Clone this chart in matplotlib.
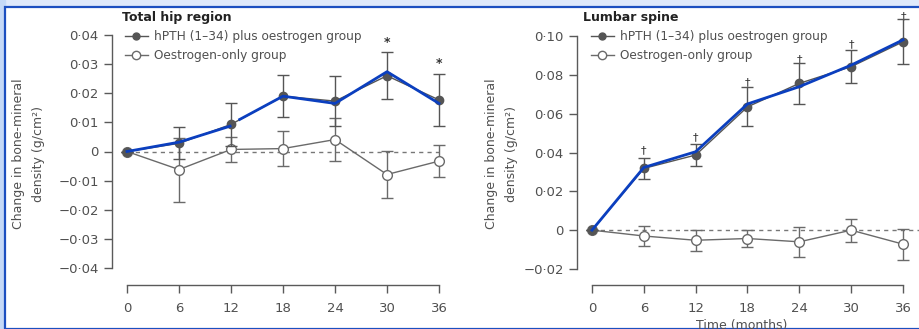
import numpy as np
import matplotlib
matplotlib.use("Agg")
import matplotlib.pyplot as plt
from matplotlib.patches import Rectangle
from matplotlib.lines import Line2D

# months on x axis
months = [0, 6, 12, 18, 24, 30, 36]

# total hip region (g/cm2)
hip_pth = [0, 0.0028, 0.0093, 0.0190, 0.0173, 0.0260, 0.0177]
hip_pth_err = [0, 0.0055, 0.0075, 0.0073, 0.0085, 0.0080, 0.0090]
hip_oes = [0, -0.0062, 0.0007, 0.0010, 0.0041, -0.0079, -0.0033]
hip_oes_err = [0, 0.0110, 0.0042, 0.0060, 0.0075, 0.0080, 0.0055]
hip_blue_x = [0, 6, 11.9, np.nan, 13.0, 18, 24, 30, 36]
hip_blue_y = [0, 0.0032, 0.0087, np.nan, 0.0110, 0.0190, 0.0165, 0.0274, 0.0165]
hip_star_x = [30, 36]
hip_star_y = [0.0375, 0.0302]

# lumbar spine (g/cm2)
sp_pth = [0, 0.0318, 0.0387, 0.0635, 0.0756, 0.0842, 0.0970]
sp_pth_err = [0, 0.0055, 0.0058, 0.0100, 0.0105, 0.0085, 0.0115]
sp_oes = [0, -0.0030, -0.0052, -0.0043, -0.0060, 0.0, -0.0072]
sp_oes_err = [0, 0.0050, 0.0055, 0.0043, 0.0077, 0.0060, 0.0080]
sp_blue_y = [0, 0.0323, 0.0404, 0.0650, 0.0739, 0.0850, 0.0980]
sp_dag_y = [None, 0.0410, 0.0480, 0.0760, 0.0880, 0.0960, 0.1100]

hip_yticks = [-0.04, -0.03, -0.02, -0.01, 0, 0.01, 0.02, 0.03, 0.04]
sp_yticks = [-0.02, 0, 0.02, 0.04, 0.06, 0.08, 0.10]

W, H = 920, 329
GREY = "#5a5a5a"
TXT = "#505050"


def fmt(v, nd):
    if v == 0:
        return "0"
    s = f"{abs(v):.{nd}f}".replace(".", "\u00b7")
    return ("\u2212" if v < 0 else "") + s


def make_axes(fig, px_left, px_right, px_top, px_bot, x0px, x36px, ya, ya_px, yb, yb_px):
    ax = fig.add_axes([px_left / W, 1 - px_bot / H, (px_right - px_left) / W, (px_bot - px_top) / H])
    sx = (x36px - x0px) / 36.0
    ax.set_xlim((px_left - x0px) / sx, (px_right - x0px) / sx)
    sy = (ya_px - yb_px) / (yb - ya)
    ax.set_ylim(ya - (px_bot - ya_px) / sy, yb + (yb_px - px_top) / sy)
    ax.patch.set_visible(False)
    for s in ["top", "right"]:
        ax.spines[s].set_visible(False)
    for s in ["left", "bottom"]:
        ax.spines[s].set_color(GREY)
        ax.spines[s].set_linewidth(1.0)
    ax.tick_params(colors=GREY, labelcolor=TXT, labelsize=9.5, length=6, width=1.0)
    ax.tick_params(axis="x", pad=6)
    return ax


def draw(ax, pth, pth_err, oes, oes_err, dash_end):
    ax.plot([0, dash_end], [0, 0], color="#777777", lw=1.0, dashes=(3, 3), zorder=1, clip_on=False)
    ax.errorbar(months, oes, yerr=oes_err, color="#6a6a6a", lw=1.0, elinewidth=1.0, capsize=4,
                capthick=1.0, marker="o", ms=7, mfc="white", mec="#6a6a6a", mew=1.0, zorder=3,
                clip_on=False)
    ax.errorbar(months, pth, yerr=pth_err, color="#555555", lw=1.0, elinewidth=1.0, capsize=4,
                capthick=1.0, marker="o", ms=6, mfc="#555555", mec="#555555", zorder=4,
                clip_on=False)


def add_legend(ax, x_anchor):
    handles = [
        Line2D([], [], color="#555555", lw=1.0, marker="o", ms=5, mfc="#555555", mec="#555555"),
        Line2D([], [], color="#6a6a6a", lw=1.0, marker="o", ms=6, mfc="white", mec="#6a6a6a"),
    ]
    labels = ["hPTH (1\u201334) plus oestrogen group", "Oestrogen-only group"]
    ax.legend(handles, labels, loc="upper left", bbox_to_anchor=(x_anchor, 0.935), frameon=False,
              fontsize=8.7, labelcolor=TXT, handlelength=1.9, handletextpad=0.5, labelspacing=0.55,
              borderaxespad=0, borderpad=0)


fig = plt.figure(figsize=(W / 100, H / 100), dpi=100)
fig.patch.set_facecolor("#dfe9fb")
fig.patches.append(Rectangle((0, 0), 5 / W, 1, transform=fig.transFigure, color="#c5d9f7", zorder=-2))
fig.patches.append(Rectangle((5 / W, 0), 1, 1 - 7 / H, transform=fig.transFigure, facecolor="white",
                             edgecolor="#1c4fc0", lw=1.6, zorder=-1))

# left: total hip
ax1 = make_axes(fig, 112, 452, 12, 285, 127, 439, -0.04, 268, 0.04, 35)
draw(ax1, hip_pth, hip_pth_err, hip_oes, hip_oes_err, 36)
ax1.plot(hip_blue_x, hip_blue_y, color="#0b3fbf", lw=2.0, zorder=6)
for x, y in zip(hip_star_x, hip_star_y):
    ax1.text(x, y, "*", ha="center", va="center", fontsize=9, color="#333333", fontweight="bold")
ax1.set_yticks(hip_yticks)
ax1.set_yticklabels([fmt(v, 2) for v in hip_yticks])
ax1.spines["left"].set_bounds(-0.04, 0.04)
ax1.set_xticks(months)
ax1.spines["bottom"].set_bounds(0, 36)
ax1.set_ylabel("Change in bone-mineral\ndensity (g/cm\u00b2)", fontsize=9, color=TXT, linespacing=1.7)
ax1.yaxis.set_label_coords(-0.197, 0.48)
add_legend(ax1, 0.038)
fig.text(122 / W, 1 - 17 / H, "Total hip region", fontsize=9, fontweight="bold", color="#222222",
         ha="left", va="center")

# right: lumbar spine
ax2 = make_axes(fig, 577, 920, 12, 285, 592, 903, -0.02, 269, 0.10, 36)
draw(ax2, sp_pth, sp_pth_err, sp_oes, sp_oes_err, ax2.get_xlim()[1])
ax2.plot(months, sp_blue_y, color="#0b3fbf", lw=2.0, zorder=6)
for x, y in zip(months, sp_dag_y):
    if y is not None:
        ax2.text(x, y, "\u2020", ha="center", va="center", fontsize=8, color="#333333", clip_on=False)
ax2.set_yticks(sp_yticks)
ax2.set_yticklabels([fmt(v, 2) for v in sp_yticks])
ax2.spines["left"].set_bounds(-0.02, 0.10)
ax2.set_xticks(months)
ax2.spines["bottom"].set_bounds(0, 36)
ax2.set_ylabel("Change in bone-mineral\ndensity (g/cm\u00b2)", fontsize=9, color=TXT, linespacing=1.7)
ax2.yaxis.set_label_coords(-0.172, 0.48)
add_legend(ax2, 0.04)
fig.text(583 / W, 1 - 17 / H, "Lumbar spine", fontsize=9, fontweight="bold", color="#222222",
         ha="left", va="center")
fig.text(742 / W, 1 - 319 / H, "Time (months)", fontsize=9, color=TXT, ha="center", va="top")

fig.savefig("out.png", dpi=100, facecolor=fig.get_facecolor())
